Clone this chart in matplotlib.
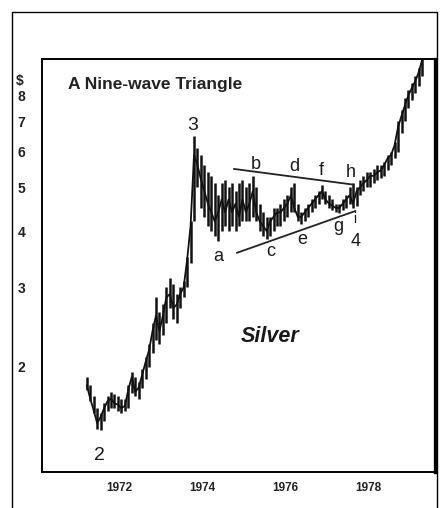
import matplotlib
matplotlib.use('Agg')
import matplotlib.pyplot as plt
from matplotlib.lines import Line2D
import numpy as np

plt.rcParams['font.family'] = ['Liberation Sans', 'DejaVu Sans']

# monthly silver bars, starting March 1971
startYear = 1971.21
highs = [1.90, 1.82, 1.72, 1.62, 1.58, 1.66, 1.72, 1.76, 1.74, 1.72,
         1.70, 1.70, 1.82, 1.95, 1.90, 1.85, 1.98, 2.10, 2.25, 2.50,
         2.85, 2.65, 2.75, 3.00, 3.15, 3.05, 2.90, 3.00, 3.10, 3.50,
         4.20, 6.50, 6.10, 5.90, 5.60, 5.40, 5.30, 5.10, 4.80, 5.10,
         5.20, 5.00, 5.10, 4.90, 5.10, 5.20, 5.00, 5.10, 5.30, 5.00,
         4.60, 4.40, 4.30, 4.30, 4.50, 4.50, 4.60, 4.70, 4.80, 5.00,
         5.10, 4.60, 4.40, 4.50, 4.60, 4.70, 4.80, 4.90, 5.05, 4.90,
         4.80, 4.70, 4.60, 4.60, 4.70, 4.80, 5.00, 5.10, 5.00, 5.20,
         5.30, 5.40, 5.40, 5.50, 5.60, 5.60, 5.70, 5.90, 6.00, 6.30,
         7.00, 7.40, 7.90, 8.20, 8.50, 8.80, 9.20, 10.0]
lows = [1.78, 1.68, 1.58, 1.46, 1.45, 1.52, 1.60, 1.62, 1.62, 1.60,
        1.58, 1.60, 1.62, 1.75, 1.72, 1.70, 1.80, 1.88, 2.00, 2.15,
        2.30, 2.25, 2.35, 2.50, 2.70, 2.55, 2.50, 2.70, 2.85, 3.00,
        3.40, 4.20, 5.00, 4.50, 4.30, 4.10, 4.00, 3.90, 3.80, 4.00,
        4.10, 4.00, 4.10, 4.00, 4.10, 4.20, 4.20, 4.20, 4.30, 4.20,
        4.00, 3.90, 3.85, 3.90, 4.00, 4.10, 4.10, 4.20, 4.30, 4.40,
        4.40, 4.20, 4.15, 4.20, 4.30, 4.40, 4.50, 4.60, 4.70, 4.60,
        4.50, 4.45, 4.40, 4.38, 4.45, 4.50, 4.60, 4.50, 4.55, 4.80,
        4.90, 5.00, 5.00, 5.10, 5.20, 5.25, 5.30, 5.45, 5.60, 5.80,
        6.00, 6.60, 7.00, 7.50, 7.80, 8.10, 8.40, 8.80]
closes = [1.82, 1.70, 1.60, 1.50, 1.55, 1.62, 1.68, 1.70, 1.66, 1.65,
          1.62, 1.64, 1.78, 1.90, 1.76, 1.80, 1.92, 2.05, 2.18, 2.40,
          2.60, 2.40, 2.60, 2.85, 2.90, 2.70, 2.75, 2.90, 3.00, 3.45,
          4.10, 5.90, 5.60, 5.20, 4.90, 4.60, 4.40, 4.20, 4.40, 4.70,
          4.40, 4.70, 4.40, 4.60, 4.30, 4.70, 4.40, 4.60, 4.90, 4.40,
          4.20, 4.10, 4.00, 4.20, 4.30, 4.40, 4.40, 4.50, 4.60, 4.80,
          4.50, 4.30, 4.30, 4.40, 4.50, 4.60, 4.70, 4.80, 4.90, 4.70,
          4.60, 4.55, 4.50, 4.50, 4.60, 4.70, 4.80, 4.60, 4.90, 5.00,
          5.10, 5.20, 5.30, 5.30, 5.40, 5.45, 5.60, 5.80, 5.90, 6.20,
          6.80, 7.20, 7.60, 8.00, 8.30, 8.60, 9.00, 9.60]

# triangle boundary lines (year, price)
upperLine = [[1974.76, 1977.62], [5.49, 5.07]]
lowerLine = [[1974.83, 1977.68], [3.58, 4.43]]

# wave labels: text, year, price, size
waveLabels = [['3', 1973.75, 6.84, 14],
              ['2', 1971.52, 1.27, 14],
              ['a', 1974.37, 3.52, 13],
              ['b', 1975.29, 5.63, 13],
              ['c', 1975.65, 3.61, 13],
              ['d', 1976.20, 5.55, 13],
              ['e', 1976.41, 3.84, 13],
              ['f', 1976.87, 5.44, 13],
              ['g', 1977.28, 4.10, 13],
              ['h', 1977.56, 5.38, 13],
              ['i', 1977.66, 4.26, 10],
              ['4', 1977.68, 3.80, 13]]

yTicks = [2, 3, 4, 5, 6, 7, 8]
xTicks = [1972, 1974, 1976, 1978]

fig = plt.figure(figsize=(4.41, 5.08), dpi=100)
ax = fig.add_axes([42/441, 36/508, 393/441, 413/508])

dates = startYear + np.arange(len(highs))/12.0
ax.vlines(dates, lows, highs, color='#111111', lw=1.8)
ax.plot(dates, closes, color='#111111', lw=1.3)

ax.plot(upperLine[0], upperLine[1], color='#222222', lw=1.3)
ax.plot(lowerLine[0], lowerLine[1], color='#222222', lw=1.3)

for w in waveLabels:
	ax.text(w[1], w[2], w[0], ha='center', va='center', fontsize=w[3], color='#1a1a1a')

ax.set_yscale('log')
ax.set_ylim(1.17, 9.62)
ax.set_xlim(1970.13, 1979.60)
ax.set_yticks(yTicks)
ax.set_yticklabels([str(t) for t in yTicks], fontsize=10, fontweight='bold', color='#222222')
ax.yaxis.set_minor_locator(matplotlib.ticker.NullLocator())
ax.set_xticks(xTicks)
ax.set_xticklabels([str(t) for t in xTicks], fontsize=8.5, fontweight='bold', color='#222222')
ax.tick_params(axis='both', length=0)
ax.tick_params(axis='y', pad=12)
ax.tick_params(axis='x', pad=7)

ax.text(-0.058, 8.62, '$', transform=ax.get_yaxis_transform(), ha='center', va='center',
        fontsize=10, fontweight='bold', color='#222222')

for s in ['left', 'bottom', 'top']:
	ax.spines[s].set_linewidth(1.4)
ax.spines['right'].set_linewidth(2.4)

ax.text(0.066, 0.939, 'A Nine-wave Triangle', transform=ax.transAxes, ha='left', va='center',
        fontsize=12.5, fontweight='bold', color='#222222')
ax.text(0.58, 0.327, 'Silver', transform=ax.transAxes, ha='center', va='center',
        fontsize=15.5, fontweight='bold', style='italic', color='#1a1a1a')

# outer frame
x0 = 12/441
x1 = 437/441
top = 1 - 12/508
fig.add_artist(Line2D([x0, x0, x1, x1], [-0.02, top, top, -0.02], transform=fig.transFigure,
                      color='black', lw=1.0))

fig.savefig('out.png', dpi=100, facecolor='white')
